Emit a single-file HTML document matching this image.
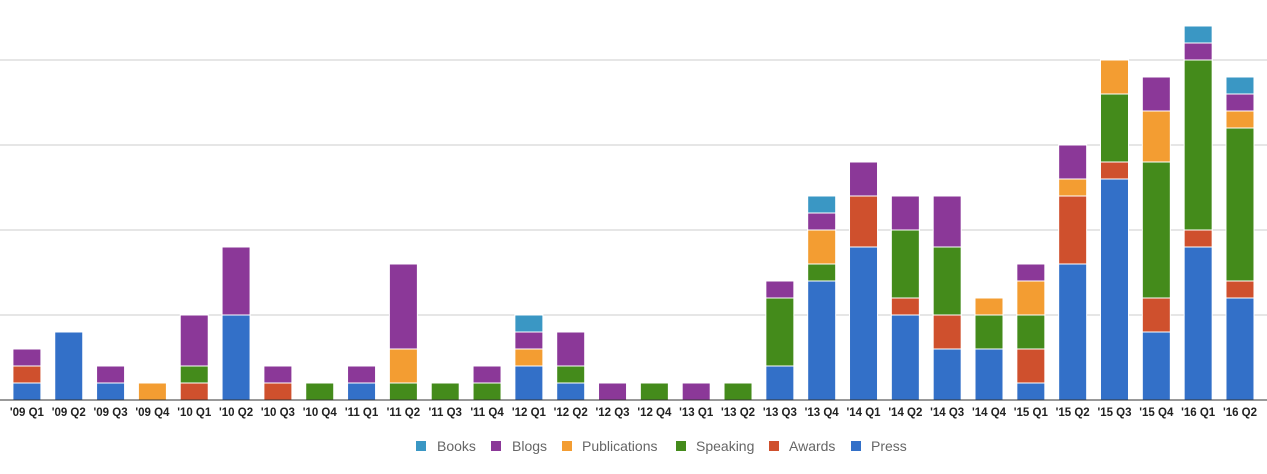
<!DOCTYPE html>
<html><head><meta charset="utf-8"><style>
body{margin:0;background:#fff;font-family:"Liberation Sans",sans-serif}
svg{display:block}
</style></head><body>
<svg id="chart" width="1267" height="474" xmlns="http://www.w3.org/2000/svg"></svg>
<script>
const categories=["'09 Q1","'09 Q2","'09 Q3","'09 Q4","'10 Q1","'10 Q2","'10 Q3","'10 Q4","'11 Q1","'11 Q2","'11 Q3","'11 Q4","'12 Q1","'12 Q2","'12 Q3","'12 Q4","'13 Q1","'13 Q2","'13 Q3","'13 Q4","'14 Q1","'14 Q2","'14 Q3","'14 Q4","'15 Q1","'15 Q2","'15 Q3","'15 Q4","'16 Q1","'16 Q2"];
const press=[1,4,1,0,0,5,0,0,1,0,0,0,2,1,0,0,0,0,2,7,9,5,3,3,1,8,13,4,9,6];
const awards=[1,0,0,0,1,0,1,0,0,0,0,0,0,0,0,0,0,0,0,0,3,1,2,0,2,4,1,2,1,1];
const speaking=[0,0,0,0,1,0,0,1,0,1,1,1,0,1,0,1,0,1,4,1,0,4,4,2,2,0,4,8,10,9];
const publications=[0,0,0,1,0,0,0,0,0,2,0,0,1,0,0,0,0,0,0,2,0,0,0,1,2,1,2,3,0,1];
const blogs=[1,0,1,0,3,4,1,0,1,5,0,1,1,2,1,0,1,0,1,1,2,2,3,0,1,2,0,2,1,1];
const books=[0,0,0,0,0,0,0,0,0,0,0,0,1,0,0,0,0,0,0,1,0,0,0,0,0,0,0,0,1,1];
const gridTicks=[0,5,10,15,20];
const NS="http://www.w3.org/2000/svg";
const svg=document.getElementById('chart');
const base=400,unit=17,x0=6,band=41.83,bw=28;
const y=v=>base-v*unit;
const xc=i=>x0+band*i+band/2;
function mk(t,a){const e=document.createElementNS(NS,t);for(const k in a)e.setAttribute(k,a[k]);svg.appendChild(e);return e;}
gridTicks.forEach(t=>{
  if(t===0)return;
  const l=mk('line',{x1:0,x2:1267,y1:y(t),y2:y(t),stroke:'#ccc','stroke-width':1});
  
  
});
const series=[["press",press,"#3370c8"],["awards",awards,"#cf502d"],["speaking",speaking,"#448b1b"],["publications",publications,"#f39d32"],["blogs",blogs,"#8b3898"],["books",books,"#3a97c4"]];
categories.forEach((c,i)=>{
  let acc=0;
  series.forEach(([n,arr,col])=>{
    const v=arr[i];if(!v)return;
    const r=mk('rect',{x:xc(i)-bw/2,y:y(acc+v),width:bw,height:v*unit,fill:col,stroke:'#fff','stroke-width':1});
    
    
    acc+=v;
  });
  const t=mk('text',{x:xc(i),y:416,'text-anchor':'middle','font-size':'11.5','font-weight':'bold',fill:'#222'});
  t.textContent=c;
  
  
});
const bl=mk('line',{x1:0,x2:1267,y1:base,y2:base,stroke:'#333','stroke-width':1});


const legend=[["Books","#3a97c4",416,437],["Blogs","#8b3898",491,512],["Publications","#f39d32",562,582],["Speaking","#448b1b",676,696],["Awards","#cf502d",769,789],["Press","#3370c8",851,871]];
legend.forEach(([n,col,sx,tx])=>{
  const r=mk('rect',{x:sx,y:441,width:10,height:10,fill:col});
  
  
  const t=mk('text',{x:tx,y:451,'font-size':'14',fill:'#666'});
  t.textContent=n;
  
  
});
</script>
</body></html>
